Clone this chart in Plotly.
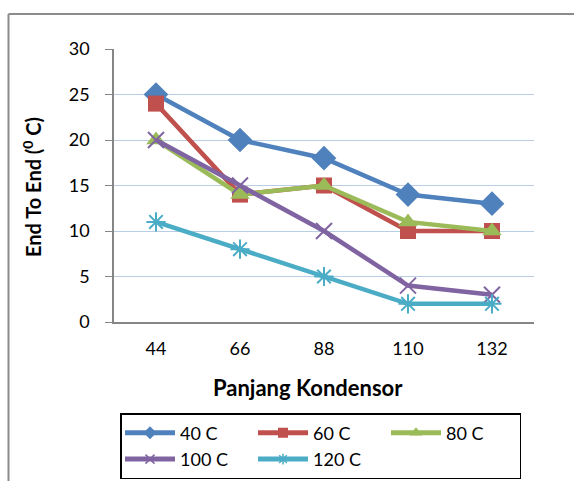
import plotly.graph_objects as go

categories = ["44", "66", "88", "110", "132"]
s40 = [25, 20, 18, 14, 13]
s60 = [24, 14, 15, 10, 10]
s80 = [20, 14, 15, 11, 10]
s100 = [20, 15, 10, 4, 3]
s120 = [11, 8, 5, 2, 2]
names = ["40 C", "60 C", "80 C", "100 C", "120 C"]
y_ticks = [0, 5, 10, 15, 20, 25, 30]

W, H = 575, 482
L, R, T, B = 114, 41, 49, 160
pw, ph = W - L - R, H - T - B

def px_x(x):
    return (x - L) / pw

def px_y(y):
    return (H - B - y) / ph

FONT = "Lato, Carlito, Calibri, sans-serif"

styles = [
    dict(color="#4F81BD", symbol="diamond", size=19, lw=0, lsize=10),
    dict(color="#C0504D", symbol="square", size=16, lw=0, lsize=10),
    dict(color="#9BBB59", symbol="triangle-up", size=17, lw=0, lsize=11),
    dict(color="#8064A2", symbol="x-thin-open", size=16, lw=2, lsize=9),
    dict(color="#4BACC6", symbol="asterisk-open", size=16, lw=2, lsize=9),
]

fig = go.Figure()
for name, vals, st in zip(names, [s40, s60, s80, s100, s120], styles):
    fig.add_trace(go.Scatter(
        x=categories, y=vals, name=name, mode="lines+markers", showlegend=False,
        legendgroup=name,
        line=dict(color=st["color"], width=4.5),
        marker=dict(symbol=st["symbol"], size=st["size"], color=st["color"],
                    line=dict(color=st["color"], width=st["lw"])),
    ))
# legend entries (smaller markers, as in the reference legend)
for name, st in zip(names, styles):
    fig.add_trace(go.Scatter(
        x=[None], y=[None], name=name, mode="lines+markers", legendgroup=name,
        line=dict(color=st["color"], width=5),
        marker=dict(symbol=st["symbol"], size=st["lsize"], color=st["color"],
                    line=dict(color=st["color"], width=1.5 if st["lw"] else 0)),
    ))

border = dict(color="#8C8C8C", width=2)

fig.update_layout(
    width=W, height=H,
    margin=dict(l=L, r=R, t=T, b=B, autoexpand=False),
    paper_bgcolor="white", plot_bgcolor="white",
    font=dict(family=FONT, size=18, color="black"),
    showlegend=True,
    legend=dict(
        orientation="h", x=px_x(120), y=px_y(413), xanchor="left", yanchor="top",
        bordercolor="black", borderwidth=1.5, entrywidth=68, entrywidthmode="pixels",
        font=dict(family=FONT, size=18), tracegroupgap=0,
        itemwidth=50,
    ),
    xaxis=dict(
        type="category", range=[-0.5, 4.5], showgrid=False,
        showline=True, linecolor="#868686", linewidth=1.5,
        ticks="", tickfont=dict(size=18), ticklabelstandoff=10,
    ),
    yaxis=dict(
        range=[0, 30], tickvals=y_ticks, showgrid=True, gridcolor="#B9CDE5", gridwidth=1.2,
        showline=True, linecolor="#868686", linewidth=1.5,
        ticks="outside", ticklen=7, tickcolor="#868686",
        tickfont=dict(size=18), zeroline=False, ticklabelstandoff=12,
    ),
    annotations=[
        dict(text="<b>Panjang Kondensor</b>", xref="paper", yref="paper",
             x=px_x(308), y=px_y(387), xanchor="center", yanchor="middle",
             showarrow=False, font=dict(size=22)),
        dict(text="<b>End To End (<sup>0</sup> C)</b>", xref="paper", yref="paper",
             x=px_x(32), y=px_y(187), xanchor="center", yanchor="middle",
             textangle=-90, showarrow=False, font=dict(size=20)),
    ],
    shapes=[
        dict(type="line", xref="paper", yref="paper", layer="above",
             x0=px_x(8.5), y0=px_y(14), x1=px_x(W - 1), y1=px_y(14), line=border),
        dict(type="line", xref="paper", yref="paper", layer="above",
             x0=px_x(8.5), y0=px_y(14), x1=px_x(8.5), y1=px_y(H - 1), line=border),
    ],
)

fig.write_html("out.html", config={"displayModeBar": False},
               post_script="document.body.style.margin='0';document.body.style.overflow='hidden';")
